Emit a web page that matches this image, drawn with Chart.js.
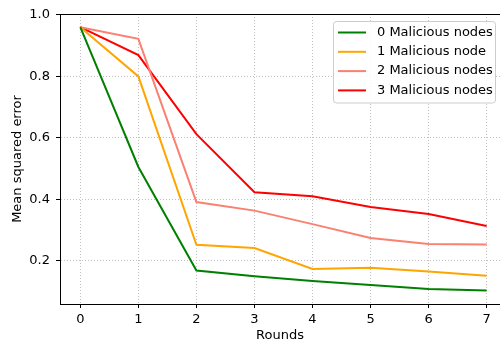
<!DOCTYPE html>
<html><head><meta charset="utf-8">
<script src="https://cdn.jsdelivr.net/npm/chart.js@4"></script>
<style>html,body{margin:0;padding:0;background:#fff;overflow:hidden}#wrap{width:500px;height:343px}</style>
</head><body><div id="wrap"><canvas id="c" width="500" height="343"></canvas></div>
<script>
const rounds = [0, 1, 2, 3, 4, 5, 6, 7];
const labels = ["0 Malicious nodes", "1 Malicious node", "2 Malicious nodes", "3 Malicious nodes"];
const mal0 = [0.96, 0.505, 0.168, 0.149, 0.134, 0.121, 0.108, 0.103];
const mal1 = [0.96, 0.800, 0.252, 0.241, 0.173, 0.177, 0.165, 0.151];
const mal2 = [0.96, 0.922, 0.391, 0.363, 0.319, 0.274, 0.254, 0.253];
const mal3 = [0.96, 0.869, 0.612, 0.423, 0.410, 0.375, 0.352, 0.313];
const yTicks = [0.2, 0.4, 0.6, 0.8, 1.0];
const colors = ["#008000", "#ffa500", "#fa8072", "#ff0000"];

const series = [mal0, mal1, mal2, mal3];
const FONT = "'DejaVu Sans', sans-serif";

const framePlugin = {
  id: 'frame',
  afterDraw(chart) {
    const {ctx, chartArea: a} = chart;
    ctx.save();
    ctx.strokeStyle = '#000';
    ctx.lineWidth = 1;
    ctx.beginPath();
    ctx.moveTo(a.left, a.top + 0.5);
    ctx.lineTo(a.right, a.top + 0.5);
    ctx.stroke();
    // legend
    const x0 = 333.5, y0 = 21.5, w = 162, h = 81.5, r = 3;
    ctx.fillStyle = 'rgba(255,255,255,0.85)';
    ctx.strokeStyle = '#cccccc';
    ctx.beginPath();
    ctx.roundRect(x0, y0, w, h, r);
    ctx.fill();
    ctx.stroke();
    ctx.font = "13px " + FONT;
    ctx.textBaseline = 'middle';
    ctx.textAlign = 'left';
    chart.data.datasets.forEach((ds, i) => {
      const yy = 32.5 + i * 19.3;
      ctx.strokeStyle = ds.borderColor;
      ctx.lineWidth = 2;
      ctx.beginPath();
      ctx.moveTo(338, yy);
      ctx.lineTo(366, yy);
      ctx.stroke();
      ctx.fillStyle = '#000';
      ctx.fillText(ds.label, 377, yy);
    });
    ctx.restore();
  }
};

new Chart(document.getElementById('c'), {
  type: 'line',
  data: {
    datasets: series.map((s, i) => ({
      label: labels[i],
      data: rounds.map((r, j) => ({x: r, y: s[j]})),
      borderColor: colors[i],
      backgroundColor: colors[i],
      borderWidth: 2,
      pointRadius: 0,
      tension: 0,
      fill: false
    }))
  },
  options: {
    responsive: false,
    animation: false,
    layout: {padding: {left: 0, right: 0, top: 14, bottom: 0}},
    plugins: {legend: {display: false}, tooltip: {enabled: false}},
    scales: {
      x: {
        type: 'linear', min: -0.35, max: 7.23,
        afterBuildTicks(s) { s.ticks = rounds.map(v => ({value: v})); },
        afterFit(s) { s.height = 39; },
        ticks: {color: '#000', font: {family: FONT, size: 13}, padding: 4, maxRotation: 0,
          callback: v => String(v)},
        grid: {color: '#b0b0b0', lineWidth: 0.8, drawTicks: true, tickLength: 4,
          tickColor: '#000', tickBorderDash: [], tickWidth: 1},
        border: {display: true, color: '#000', width: 1, dash: [1, 2]},
        title: {display: true, text: 'Rounds', color: '#000', font: {family: FONT, size: 13}, padding: {top: 0, bottom: 0}}
      },
      y: {
        type: 'linear', min: 0.059, max: 1.003,
        afterBuildTicks(s) { s.ticks = yTicks.map(v => ({value: v})); },
        afterFit(s) { s.width = 60; },
        ticks: {color: '#000', font: {family: FONT, size: 13}, padding: 6,
          callback: v => Number(v).toFixed(1)},
        grid: {color: '#b0b0b0', lineWidth: 0.8, drawTicks: true, tickLength: 4,
          tickColor: '#000', tickBorderDash: [], tickWidth: 1},
        border: {display: true, color: '#000', width: 1, dash: [1, 2]},
        title: {display: true, text: 'Mean squared error', color: '#000', font: {family: FONT, size: 13}, padding: {top: 10, bottom: 0}}
      }
    }
  },
  plugins: [framePlugin]
});
</script></body></html>
